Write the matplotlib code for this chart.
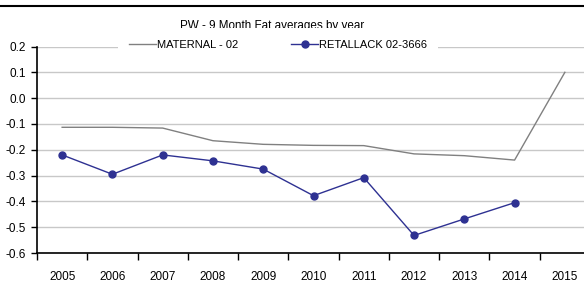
import matplotlib
matplotlib.use("Agg")
import matplotlib.pyplot as plt
from matplotlib.lines import Line2D

plt.rcParams['font.family'] = ['Liberation Sans', 'DejaVu Sans']

years = ['2005', '2006', '2007', '2008', '2009', '2010', '2011', '2012', '2013', '2014', '2015']
maternal = [-0.113, -0.113, -0.116, -0.165, -0.179, -0.183, -0.184, -0.216, -0.223, -0.240, 0.100]
retallack = [-0.220, -0.295, -0.220, -0.243, -0.275, -0.378, -0.308, -0.532, -0.468, -0.405]
yticks = [0.2, 0.1, 0.0, -0.1, -0.2, -0.3, -0.4, -0.5, -0.6]
title = 'PW - 9 Month Fat averages by year'

W, H = 584, 288
fig = plt.figure(figsize=(W / 100, H / 100), dpi=100)
left, right, bottom, top = 37, 590, 253, 46.5
ax = fig.add_axes([left / W, 1 - bottom / H, (right - left) / W, (bottom - top) / H])

grey = '#808080'
blue = '#2e3192'
x = list(range(len(years)))
ax.plot(x, maternal, color=grey, lw=1.0, zorder=3)
ax.plot(x[:len(retallack)], retallack, color=blue, lw=1.0, marker='o', ms=5, zorder=3)

ax.set_xlim(-0.5, len(years) - 0.5)
ax.set_ylim(-0.6, 0.2)
ax.set_yticks(yticks)
ax.set_yticklabels([f'{v:.1f}' for v in yticks], fontsize=8.5)
ax.yaxis.grid(True, color='#c8c8c8', lw=1.0)
ax.set_axisbelow(True)

ax.set_xticks([i - 0.5 for i in range(len(years) + 1)])
ax.set_xticklabels([])
ax.set_xticks(x, minor=True)
ax.set_xticklabels(years, minor=True, fontsize=8.5)
ax.tick_params(axis='x', which='major', length=5, width=1, direction='out')
ax.tick_params(axis='x', which='minor', length=0, pad=13)
ax.tick_params(axis='y', length=4, width=1, pad=4)

for s in ['top', 'right']:
    ax.spines[s].set_visible(False)
for s in ['left', 'bottom']:
    ax.spines[s].set_color('black')
    ax.spines[s].set_linewidth(1.2)

ax.text(272 / W, 1 - 26.5 / H, title, transform=fig.transFigure, ha='center', va='center',
        fontsize=8.4, zorder=4, clip_on=False)

handles = [Line2D([], [], color=grey, lw=1.0),
           Line2D([], [], color=blue, lw=1.0, marker='o', ms=5)]
leg = ax.legend(handles, ['MATERNAL - 02', 'RETALLACK 02-3666'], ncol=2,
                loc='center', bbox_to_anchor=(278 / W, 1 - 44.5 / H),
                bbox_transform=fig.transFigure, frameon=True, framealpha=1,
                edgecolor='none', facecolor='white', fontsize=8,
                handlelength=2.4, handletextpad=0.05, columnspacing=4.8,
                borderpad=1.0, fancybox=False)
leg.set_zorder(5)

fig.add_artist(Line2D([0, 1], [1 - 5.5 / H, 1 - 5.5 / H], transform=fig.transFigure,
                      color='black', lw=1.5))

fig.savefig('out.png', dpi=100)
